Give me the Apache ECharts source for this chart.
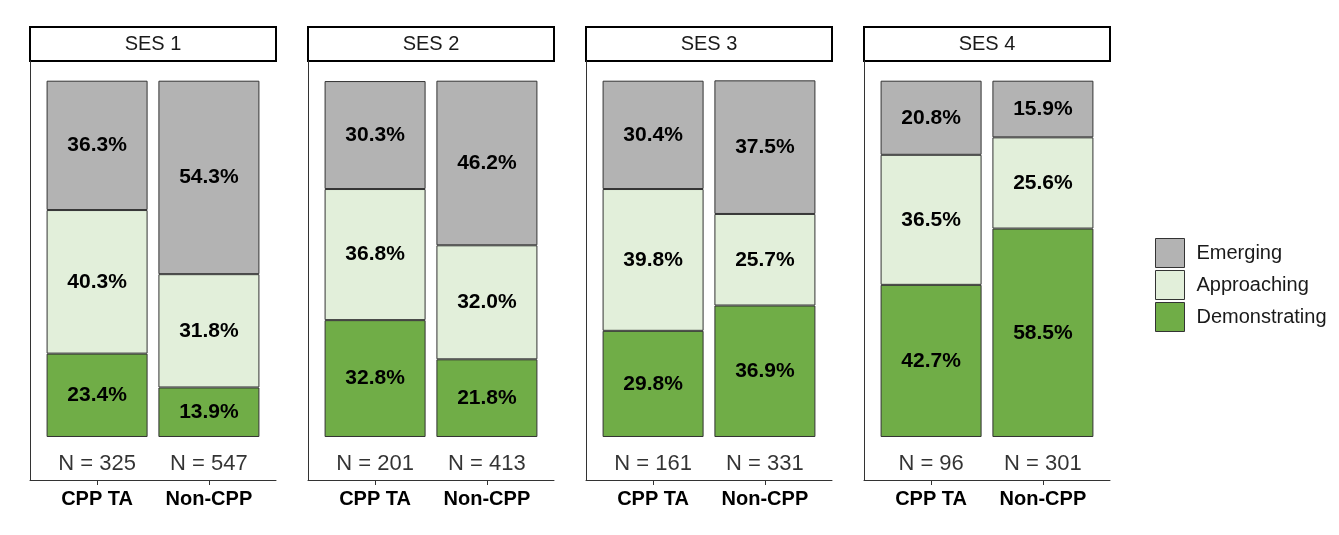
<!DOCTYPE html>
<html>
<head>
<meta charset="utf-8">
<script src="https://cdn.jsdelivr.net/npm/echarts@6/dist/echarts.min.js"></script>
<style>html,body{margin:0;padding:0;background:#fff;}#c{width:1339px;height:535px;}</style>
</head>
<body>
<div id="c"></div>
<script>
const panels = ['SES 1', 'SES 2', 'SES 3', 'SES 4'];
const groups = ['CPP TA', 'Non-CPP'];
const levels = ['Emerging', 'Approaching', 'Demonstrating'];
// values per panel: [CPP TA, Non-CPP]
const emerging = [[36.3, 54.3], [30.3, 46.2], [30.4, 37.5], [20.8, 15.9]];
const approaching = [[40.3, 31.8], [36.8, 32.0], [39.8, 25.7], [36.5, 25.6]];
const demonstrating = [[23.4, 13.9], [32.8, 21.8], [29.8, 36.9], [42.7, 58.5]];
const counts = [[325, 547], [201, 413], [161, 331], [96, 301]];

const FONT = 'Liberation Sans, Arial, sans-serif';
const colors = { Emerging: '#B3B3B3', Approaching: '#E2EFDA', Demonstrating: '#70AD47' };
const panelLeft = [30, 308, 586, 864];
const panelW = 246;
const unit = panelW / 2.2;           // discrete scale: 2 groups + 0.6 expansion each side
const innerOff = 0.1 * unit;
const Y_MIN = -12.07, Y_MAX = 105.53;

const grid = [], xAxis = [], yAxis = [], series = [], title = [];
// data grids 0..3
panels.forEach((p, i) => {
  grid.push({ left: panelLeft[i] + innerOff, top: 61, width: 2 * unit, height: 419 });
  xAxis.push({
    type: 'category', gridIndex: i, data: groups, position: 'bottom',
    axisLine: { show: false, onZero: false },
    axisTick: { show: true, alignWithLabel: true, length: 5, lineStyle: { color: '#333' } },
    axisLabel: { interval: 0, margin: 9, fontFamily: FONT, fontSize: 20, fontWeight: 'bold', color: '#000' }
  });
  yAxis.push({ type: 'value', gridIndex: i, min: Y_MIN, max: Y_MAX, show: false });
  const mk = (name, arr) => ({
    type: 'bar', name, xAxisIndex: i, yAxisIndex: i, stack: 'st' + i,
    barWidth: 101,
    data: arr[i],
    itemStyle: { color: colors[name], borderColor: '#333', borderWidth: 1 },
    label: { show: true, position: 'inside', formatter: d => d.value.toFixed(1) + '%',
      fontFamily: FONT, fontSize: 21, fontWeight: 'bold', color: '#000' },
    emphasis: { disabled: true }
  });
  series.push(mk('Demonstrating', demonstrating));
  series.push(mk('Approaching', approaching));
  series.push(mk('Emerging', emerging));
  series.push({
    type: 'scatter', name: 'N', xAxisIndex: i, yAxisIndex: i, symbolSize: 0,
    data: groups.map(() => -7.7),
    label: { show: true, position: 'inside', formatter: d => 'N = ' + counts[i][d.dataIndex],
      fontFamily: FONT, fontSize: 22, color: '#000' },
    silent: true
  });
  title.push({ text: p, left: panelLeft[i] + panelW / 2, top: 44, textAlign: 'center',
    textVerticalAlign: 'middle', padding: 0,
    textStyle: { fontFamily: FONT, fontSize: 20, fontWeight: 'normal', color: '#1a1a1a' } });
});
// axis-line frames 4..7
panels.forEach((p, i) => {
  const gi = panels.length + i;
  grid.push({ left: panelLeft[i], top: 61, width: panelW, height: 419 });
  xAxis.push({ type: 'value', gridIndex: gi, min: 0, max: 1, splitLine: { show: false },
    axisTick: { show: false }, axisLabel: { show: false },
    axisLine: { show: true, onZero: false, lineStyle: { color: '#333', width: 1 } } });
  yAxis.push({ type: 'value', gridIndex: gi, min: 0, max: 1, splitLine: { show: false },
    axisTick: { show: false }, axisLabel: { show: false },
    axisLine: { show: true, onZero: false, lineStyle: { color: '#333', width: 1 } } });
});
// strips 8..11
panels.forEach((p, i) => {
  const gi = 2 * panels.length + i;
  grid.push({ left: panelLeft[i], top: 27, width: panelW, height: 34, show: true,
    borderColor: '#000', borderWidth: 2, backgroundColor: '#fff' });
  xAxis.push({ type: 'value', gridIndex: gi, show: false, min: 0, max: 1 });
  yAxis.push({ type: 'value', gridIndex: gi, show: false, min: 0, max: 1 });
});

const chart = echarts.init(document.getElementById('c'));
chart.setOption({
  animation: false,
  backgroundColor: '#fff',
  title, grid, xAxis, yAxis, series,
  legend: {
    data: levels, orient: 'vertical', left: 1155, top: 238, padding: 0,
    itemWidth: 29, itemHeight: 29, itemGap: 2, icon: 'rect',
    itemStyle: { borderColor: '#333', borderWidth: 1 },
    textStyle: { fontFamily: FONT, fontSize: 20, color: '#1a1a1a', padding: [0, 0, 0, 7] },
    selectedMode: false
  }
});
</script>
</body>
</html>
